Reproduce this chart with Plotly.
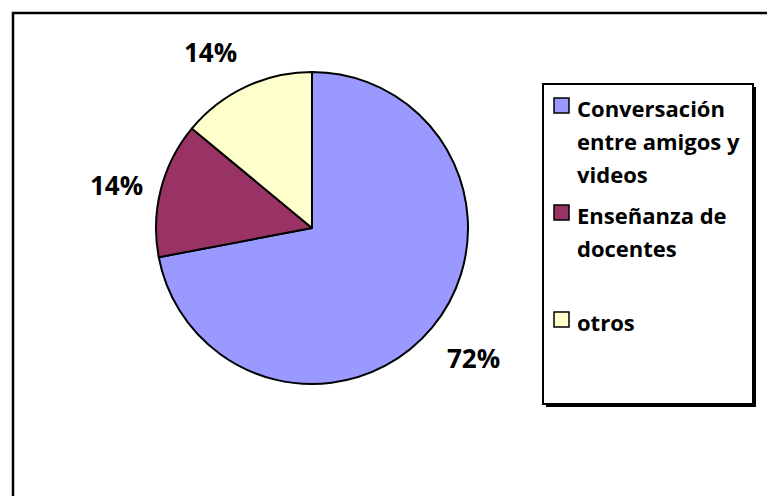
import math
import plotly.graph_objects as go

categories = ["Conversación entre amigos y videos", "Enseñanza de docentes", "otros"]
values = [72, 14, 14]
legend_lines = [["Conversación", "entre amigos y", "videos"],
                ["Enseñanza de", "docentes"],
                ["otros"]]
colors = ["#9999FF", "#993366", "#FFFFCC"]

W, H = 767, 496
FONT = "Open Sans"


def fx(p):
    return p / W


def fy(p):
    return 1 - p / H


# pie geometry (pixels in the picture)
CX, CY, R = 312, 228, 156

fig = go.Figure(go.Pie(
    labels=categories,
    values=values,
    sort=False,
    direction="clockwise",
    rotation=0,
    marker=dict(colors=colors, line=dict(color="black", width=2)),
    textinfo="none",
    domain=dict(x=[fx(CX - R), fx(CX + R)], y=[fy(CY + R), fy(CY - R)]),
    showlegend=False,
    hoverinfo="skip",
))

shapes = [
    # outer chart frame (right/bottom run off the picture)
    dict(type="rect", xref="paper", yref="paper", x0=fx(13), y0=fy(13), x1=1.2, y1=-0.2,
         line=dict(color="black", width=2.5), fillcolor="rgba(0,0,0,0)", layer="below"),
    # legend shadow and box
    dict(type="rect", xref="paper", yref="paper", x0=fx(546), y0=fy(87), x1=fx(756), y1=fy(407),
         line=dict(width=0), fillcolor="black"),
    dict(type="rect", xref="paper", yref="paper", x0=fx(543), y0=fy(84), x1=fx(753), y1=fy(404),
         line=dict(color="black", width=2), fillcolor="white"),
]
annotations = []

# percentage labels placed just outside each slice, anchored toward its mid-angle
total = sum(values)
cum = 0
for v in values:
    mid = (cum + v / 2) / total * 2 * math.pi
    cum += v
    s, c = math.sin(mid), math.cos(mid)
    lx = CX + (R + 16) * s
    ly = CY - (R + 16) * c
    xa = "right" if s < -0.3 else ("left" if s > 0.3 else "center")
    ya = "bottom" if c > 0.3 else ("top" if c < -0.3 else "middle")
    annotations.append(dict(xref="paper", yref="paper", x=fx(lx), y=fy(ly),
                            text=f"{round(v / total * 100)}%", showarrow=False,
                            xanchor=xa, yanchor=ya,
                            font=dict(family=FONT, size=26, color="black", weight="bold")))

entry_top = 107
entry_step = 107
line_step = 33
for i, lines in enumerate(legend_lines):
    yc = entry_top + i * entry_step
    shapes.append(dict(type="rect", xref="paper", yref="paper",
                       x0=fx(554), x1=fx(569), y0=fy(yc - 9), y1=fy(yc + 6),
                       line=dict(color="black", width=1.5), fillcolor=colors[i]))
    for j, t in enumerate(lines):
        annotations.append(dict(xref="paper", yref="paper", x=fx(575), y=fy(yc + 1 + j * line_step),
                                text=t, showarrow=False, xanchor="left", yanchor="middle",
                                font=dict(family=FONT, size=22, color="black", weight="bold")))

fig.update_layout(
    width=W, height=H,
    margin=dict(l=0, r=0, t=0, b=0),
    paper_bgcolor="white",
    plot_bgcolor="white",
    shapes=shapes,
    annotations=annotations,
)

fig.write_html(
    "out.html",
    config={"displayModeBar": False},
    post_script="document.body.style.margin='0';document.body.style.overflow='hidden';",
)
